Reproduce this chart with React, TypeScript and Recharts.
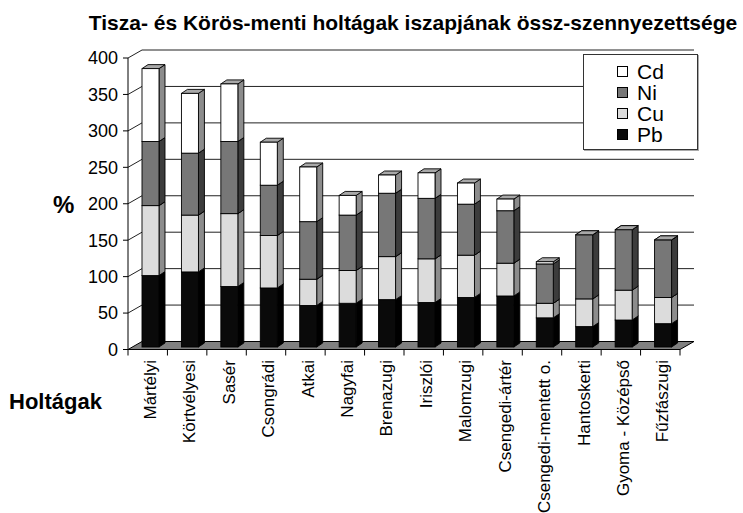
import React from "react";
import { BarChart, Bar, XAxis, YAxis, CartesianGrid } from "recharts";

const categories = [
  "Mártélyi",
  "Körtvélyesi",
  "Sasér",
  "Csongrádi",
  "Atkai",
  "Nagyfai",
  "Brenazugi",
  "Iriszlói",
  "Malomzugi",
  "Csengedi-ártér",
  "Csengedi-mentett o.",
  "Hantoskerti",
  "Gyoma - Középső",
  "Fűzfászugi",
];
const pbValues = [98, 103, 83, 81, 57, 60, 65, 61, 68, 70, 40, 28, 37, 32];
const cuValues = [96, 78, 100, 72, 36, 45, 59, 60, 58, 45, 20, 38, 41, 36];
const niValues = [88, 85, 99, 69, 79, 76, 87, 83, 70, 72, 54, 88, 83, 79];
const cdValues = [100, 82, 79, 59, 75, 27, 25, 35, 29, 16, 3, 0, 0, 0];
const yTicks = [0, 50, 100, 150, 200, 250, 300, 350, 400];

const seriesNames = ["Pb", "Cu", "Ni", "Cd"];
const seriesColors: Record<string, { front: string; side: string; top: string }> = {
  Pb: { front: "#0a0a0a", side: "#000000", top: "#3a3a3a" },
  Cu: { front: "#dcdcdc", side: "#8c8c8c", top: "#b8b8b8" },
  Ni: { front: "#777777", side: "#3c3c3c", top: "#a0a0a0" },
  Cd: { front: "#ffffff", side: "#8c8c8c", top: "#a8a8a8" },
};

const data = categories.map((name, i) => ({
  name,
  Pb: pbValues[i],
  Cu: cuValues[i],
  Ni: niValues[i],
  Cd: cdValues[i],
}));

const W = 743;
const H = 513;
const PLOT_LEFT = 128;
const PLOT_RIGHT = 680;
const PLOT_TOP = 58;
const PLOT_BOTTOM = 349.5;
const DEPTH_X = 14;
const DEPTH_Y = 8;
const BAND = (PLOT_RIGHT - PLOT_LEFT) / categories.length;
const FONT = "'Liberation Sans', Arial, sans-serif";

const make3D = (key: string) => (props: any) => {
  const { x, y, width: w, height: h } = props;
  if (x == null || y == null || h == null || isNaN(h)) return <g />;
  const c = seriesColors[key];
  const X = x + 3;
  const Y = y - 2.5;
  const dx = 6;
  const dy = 4;
  const sw = 0.9;
  return (
    <g>
      <polygon
        points={`${X + w},${Y} ${X + w + dx},${Y - dy} ${X + w + dx},${Y + h - dy} ${X + w},${Y + h}`}
        fill={c.side}
        stroke="#000"
        strokeWidth={sw}
      />
      <polygon
        points={`${X},${Y} ${X + w},${Y} ${X + w + dx},${Y - dy} ${X + dx},${Y - dy}`}
        fill={c.top}
        stroke="#000"
        strokeWidth={sw}
      />
      <rect x={X} y={Y} width={w} height={h} fill={c.front} stroke="#000" strokeWidth={sw} />
    </g>
  );
};

const gridLine = (props: any) => {
  const { x1, y1, x2, index } = props;
  const isFloor = Math.abs(y1 - PLOT_BOTTOM) < 1.5;
  if (isFloor) {
    return (
      <g key={`g-${index}`}>
        <polygon
          points={`${x1},${y1} ${x2},${y1} ${x2 + DEPTH_X},${y1 - DEPTH_Y} ${x1 + DEPTH_X},${y1 - DEPTH_Y}`}
          fill="#808080"
          stroke="#000"
          strokeWidth={1}
        />
      </g>
    );
  }
  return (
    <g key={`g-${index}`}>
      <line x1={x1 + DEPTH_X} y1={y1 - DEPTH_Y} x2={x2 + DEPTH_X} y2={y1 - DEPTH_Y} stroke="#222" strokeWidth={1} />
      <line x1={x1} y1={y1} x2={x1 + DEPTH_X} y2={y1 - DEPTH_Y} stroke="#222" strokeWidth={1} />
    </g>
  );
};

const XTick = (props: any) => {
  const { x, payload, index } = props;
  const cx = x;
  return (
    <g>
      {index === 0 && (
        <line x1={cx - BAND / 2} y1={PLOT_BOTTOM} x2={cx - BAND / 2} y2={PLOT_BOTTOM + 6} stroke="#000" />
      )}
      <line x1={cx + BAND / 2} y1={PLOT_BOTTOM} x2={cx + BAND / 2} y2={PLOT_BOTTOM + 6} stroke="#000" />
      <text
        x={0}
        y={0}
        dy="0.36em"
        textAnchor="end"
        fontSize={17}
        fontFamily={FONT}
        fill="#000"
        transform={`translate(${cx + 2},${PLOT_BOTTOM + 10.5}) rotate(-90)`}
      >
        {payload.value}
      </text>
    </g>
  );
};

const legendOrder = ["Cd", "Ni", "Cu", "Pb"];

export default function App() {
  return (
    <div style={{ position: "absolute", left: 0, top: 0, width: W, height: H, background: "#fff", fontFamily: FONT }}>
      <BarChart
        width={W}
        height={H}
        data={data}
        margin={{ top: PLOT_TOP, right: W - PLOT_RIGHT, left: PLOT_LEFT - 60, bottom: H - PLOT_BOTTOM - 120 }}
        barSize={17}
      >
        <CartesianGrid vertical={false} horizontal={gridLine} />
        <XAxis
          dataKey="name"
          interval={0}
          height={120}
          tickLine={false}
          axisLine={{ stroke: "#000" }}
          tick={<XTick />}
        />
        <YAxis
          width={60}
          domain={[0, 400]}
          ticks={yTicks}
          interval={0}
          tickSize={5}
          tickMargin={5}
          axisLine={{ stroke: "#000" }}
          tickLine={{ stroke: "#000" }}
          tick={{ fontSize: 18, fill: "#000", fontFamily: FONT }}
        />
        {seriesNames.map((s) => (
          <Bar key={s} dataKey={s} stackId="a" fill={seriesColors[s].front} shape={make3D(s)} isAnimationActive={false} />
        ))}
      </BarChart>
      <div
        style={{
          position: "absolute",
          left: 0,
          width: 826,
          top: 11,
          textAlign: "center",
          fontSize: 21,
          fontWeight: "bold",
          lineHeight: "24px",
          whiteSpace: "nowrap",
        }}
      >
        Tisza- és Körös-menti holtágak iszapjának össz-szennyezettsége
      </div>
      <div style={{ position: "absolute", left: 53, top: 191, fontSize: 24, fontWeight: "bold", lineHeight: "28px" }}>%</div>
      <div style={{ position: "absolute", left: 9, top: 388, fontSize: 22, fontWeight: "bold", lineHeight: "28px" }}>
        Holtágak
      </div>
      <div
        style={{
          position: "absolute",
          left: 583,
          top: 54,
          width: 113,
          height: 94,
          border: "1px solid #333",
          boxShadow: "1px 1px 0 #aaa",
          background: "#fff",
        }}
      >
        {legendOrder.map((s, i) => (
          <div key={s} style={{ position: "absolute", left: 33, top: 6 + i * 21, height: 21, display: "flex", alignItems: "center" }}>
            <div
              style={{
                width: 9,
                height: 9,
                border: "1px solid #000",
                background: seriesColors[s].front,
                marginRight: 9,
              }}
            />
            <span style={{ fontSize: 21, lineHeight: "21px" }}>{s}</span>
          </div>
        ))}
      </div>
    </div>
  );
}
